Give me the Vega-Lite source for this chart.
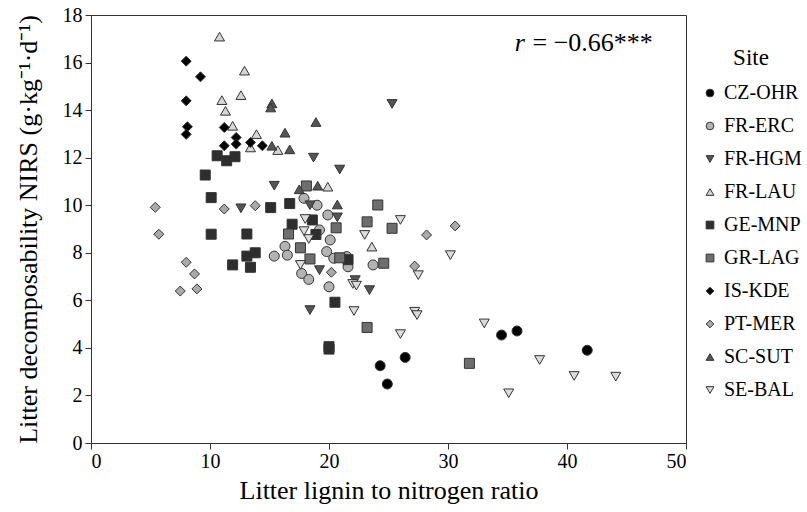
{
  "$schema": "https://vega.github.io/schema/vega-lite/v6.json",
  "width": 595,
  "height": 428,
  "autosize": {"type": "none"},
  "padding": {"left": 91, "top": 15, "right": 121, "bottom": 69},
  "background": "white",
  "config": {
    "font": "Liberation Serif",
    "view": {"stroke": "#333", "strokeWidth": 1},
    "axis": {"grid": false, "domainColor": "#333", "tickColor": "#333", "labelColor": "#000", "titleColor": "#000", "labelFont": "Liberation Serif", "titleFont": "Liberation Serif", "titleFontWeight": "normal"},
    "legend": {"labelFont": "Liberation Serif", "titleFont": "Liberation Serif"}
  },
  "datasets": {
    "pts": [
      {"site": "CZ-OHR", "ln": 24.3, "dec": 3.25},
      {"site": "CZ-OHR", "ln": 26.4, "dec": 3.6},
      {"site": "CZ-OHR", "ln": 24.9, "dec": 2.48},
      {"site": "CZ-OHR", "ln": 34.5, "dec": 4.54},
      {"site": "CZ-OHR", "ln": 35.8, "dec": 4.71},
      {"site": "CZ-OHR", "ln": 41.7, "dec": 3.9},
      {"site": "FR-ERC", "ln": 17.9, "dec": 10.29},
      {"site": "FR-ERC", "ln": 19.0, "dec": 10.0},
      {"site": "FR-ERC", "ln": 19.9, "dec": 9.59},
      {"site": "FR-ERC", "ln": 19.2, "dec": 8.96},
      {"site": "FR-ERC", "ln": 20.1, "dec": 8.54},
      {"site": "FR-ERC", "ln": 19.8, "dec": 8.05},
      {"site": "FR-ERC", "ln": 16.3, "dec": 8.27},
      {"site": "FR-ERC", "ln": 16.5, "dec": 7.9},
      {"site": "FR-ERC", "ln": 15.4, "dec": 7.86},
      {"site": "FR-ERC", "ln": 20.4, "dec": 7.77},
      {"site": "FR-ERC", "ln": 21.5, "dec": 7.84},
      {"site": "FR-ERC", "ln": 21.6, "dec": 7.41},
      {"site": "FR-ERC", "ln": 23.7, "dec": 7.49},
      {"site": "FR-ERC", "ln": 17.7, "dec": 7.13},
      {"site": "FR-ERC", "ln": 18.3, "dec": 6.88},
      {"site": "FR-ERC", "ln": 20.0, "dec": 6.57},
      {"site": "FR-HGM", "ln": 25.3, "dec": 14.26},
      {"site": "FR-HGM", "ln": 18.7, "dec": 12.0},
      {"site": "FR-HGM", "ln": 20.9, "dec": 11.5},
      {"site": "FR-HGM", "ln": 15.4, "dec": 10.82},
      {"site": "FR-HGM", "ln": 18.4, "dec": 10.0},
      {"site": "FR-HGM", "ln": 12.6, "dec": 9.87},
      {"site": "FR-HGM", "ln": 20.7, "dec": 9.49},
      {"site": "FR-HGM", "ln": 19.2, "dec": 7.27},
      {"site": "FR-HGM", "ln": 22.2, "dec": 6.85},
      {"site": "FR-HGM", "ln": 23.4, "dec": 6.43},
      {"site": "FR-HGM", "ln": 18.4, "dec": 5.59},
      {"site": "FR-LAU", "ln": 10.8, "dec": 17.09},
      {"site": "FR-LAU", "ln": 12.9, "dec": 15.66},
      {"site": "FR-LAU", "ln": 12.6, "dec": 14.63},
      {"site": "FR-LAU", "ln": 11.0, "dec": 14.42},
      {"site": "FR-LAU", "ln": 11.3, "dec": 13.97},
      {"site": "FR-LAU", "ln": 11.9, "dec": 13.34},
      {"site": "FR-LAU", "ln": 13.9, "dec": 12.99},
      {"site": "FR-LAU", "ln": 13.4, "dec": 12.43},
      {"site": "FR-LAU", "ln": 15.7, "dec": 12.32},
      {"site": "FR-LAU", "ln": 19.9, "dec": 10.78},
      {"site": "FR-LAU", "ln": 23.6, "dec": 8.26},
      {"site": "GE-MNP", "ln": 10.6, "dec": 12.08},
      {"site": "GE-MNP", "ln": 11.4, "dec": 11.87},
      {"site": "GE-MNP", "ln": 12.1, "dec": 12.04},
      {"site": "GE-MNP", "ln": 9.6, "dec": 11.27},
      {"site": "GE-MNP", "ln": 10.1, "dec": 10.32},
      {"site": "GE-MNP", "ln": 15.1, "dec": 9.9},
      {"site": "GE-MNP", "ln": 16.7, "dec": 10.07},
      {"site": "GE-MNP", "ln": 10.1, "dec": 8.78},
      {"site": "GE-MNP", "ln": 13.1, "dec": 8.79},
      {"site": "GE-MNP", "ln": 13.8, "dec": 8.0},
      {"site": "GE-MNP", "ln": 13.1, "dec": 7.86},
      {"site": "GE-MNP", "ln": 11.9, "dec": 7.49},
      {"site": "GE-MNP", "ln": 13.4, "dec": 7.39},
      {"site": "GE-MNP", "ln": 16.9, "dec": 9.2},
      {"site": "GE-MNP", "ln": 18.6, "dec": 9.38},
      {"site": "GE-MNP", "ln": 18.9, "dec": 8.77},
      {"site": "GE-MNP", "ln": 21.6, "dec": 7.71},
      {"site": "GE-MNP", "ln": 20.5, "dec": 5.92},
      {"site": "GE-MNP", "ln": 20.0, "dec": 4.05},
      {"site": "GE-MNP", "ln": 20.0, "dec": 3.95},
      {"site": "GR-LAG", "ln": 18.1, "dec": 10.81},
      {"site": "GR-LAG", "ln": 20.6, "dec": 9.05},
      {"site": "GR-LAG", "ln": 16.6, "dec": 8.79},
      {"site": "GR-LAG", "ln": 17.6, "dec": 8.21},
      {"site": "GR-LAG", "ln": 18.4, "dec": 7.74},
      {"site": "GR-LAG", "ln": 20.9, "dec": 7.79},
      {"site": "GR-LAG", "ln": 23.2, "dec": 9.3},
      {"site": "GR-LAG", "ln": 24.1, "dec": 10.01},
      {"site": "GR-LAG", "ln": 25.3, "dec": 9.03},
      {"site": "GR-LAG", "ln": 24.6, "dec": 7.56},
      {"site": "GR-LAG", "ln": 23.2, "dec": 4.86},
      {"site": "GR-LAG", "ln": 31.8, "dec": 3.35},
      {"site": "IS-KDE", "ln": 8.0, "dec": 16.06},
      {"site": "IS-KDE", "ln": 9.2, "dec": 15.4},
      {"site": "IS-KDE", "ln": 8.0, "dec": 14.39},
      {"site": "IS-KDE", "ln": 8.1, "dec": 13.3},
      {"site": "IS-KDE", "ln": 8.0, "dec": 12.98},
      {"site": "IS-KDE", "ln": 11.2, "dec": 13.27},
      {"site": "IS-KDE", "ln": 12.2, "dec": 12.85},
      {"site": "IS-KDE", "ln": 11.2, "dec": 12.5},
      {"site": "IS-KDE", "ln": 12.2, "dec": 12.57},
      {"site": "IS-KDE", "ln": 13.4, "dec": 12.64},
      {"site": "IS-KDE", "ln": 14.4, "dec": 12.5},
      {"site": "PT-MER", "ln": 5.4, "dec": 9.91},
      {"site": "PT-MER", "ln": 11.2, "dec": 9.84},
      {"site": "PT-MER", "ln": 13.8, "dec": 9.98},
      {"site": "PT-MER", "ln": 5.7, "dec": 8.78},
      {"site": "PT-MER", "ln": 8.0, "dec": 7.6},
      {"site": "PT-MER", "ln": 8.7, "dec": 7.11},
      {"site": "PT-MER", "ln": 7.5, "dec": 6.39},
      {"site": "PT-MER", "ln": 8.9, "dec": 6.48},
      {"site": "PT-MER", "ln": 20.2, "dec": 7.18},
      {"site": "PT-MER", "ln": 28.2, "dec": 8.75},
      {"site": "PT-MER", "ln": 30.6, "dec": 9.13},
      {"site": "PT-MER", "ln": 27.2, "dec": 7.44},
      {"site": "SC-SUT", "ln": 15.2, "dec": 14.28},
      {"site": "SC-SUT", "ln": 15.1, "dec": 14.11},
      {"site": "SC-SUT", "ln": 16.3, "dec": 13.05},
      {"site": "SC-SUT", "ln": 15.2, "dec": 12.5},
      {"site": "SC-SUT", "ln": 16.7, "dec": 12.35},
      {"site": "SC-SUT", "ln": 17.5, "dec": 10.67},
      {"site": "SC-SUT", "ln": 19.05, "dec": 10.82},
      {"site": "SC-SUT", "ln": 20.7, "dec": 10.03},
      {"site": "SC-SUT", "ln": 18.9, "dec": 13.5},
      {"site": "SE-BAL", "ln": 18.0, "dec": 9.42},
      {"site": "SE-BAL", "ln": 17.9, "dec": 8.91},
      {"site": "SE-BAL", "ln": 18.3, "dec": 8.58},
      {"site": "SE-BAL", "ln": 17.6, "dec": 7.49},
      {"site": "SE-BAL", "ln": 22.0, "dec": 6.69},
      {"site": "SE-BAL", "ln": 22.3, "dec": 6.62},
      {"site": "SE-BAL", "ln": 23.0, "dec": 8.75},
      {"site": "SE-BAL", "ln": 26.0, "dec": 9.38},
      {"site": "SE-BAL", "ln": 30.2, "dec": 7.9},
      {"site": "SE-BAL", "ln": 27.5, "dec": 7.06},
      {"site": "SE-BAL", "ln": 22.1, "dec": 5.55},
      {"site": "SE-BAL", "ln": 27.2, "dec": 5.52},
      {"site": "SE-BAL", "ln": 27.4, "dec": 5.38},
      {"site": "SE-BAL", "ln": 26.0, "dec": 4.58},
      {"site": "SE-BAL", "ln": 33.05, "dec": 5.03},
      {"site": "SE-BAL", "ln": 37.7, "dec": 3.49},
      {"site": "SE-BAL", "ln": 35.1, "dec": 2.09},
      {"site": "SE-BAL", "ln": 40.6, "dec": 2.82},
      {"site": "SE-BAL", "ln": 44.1, "dec": 2.79}
    ],
    "notes": [
      {"ln": 35.6, "dec": 16.82, "t": "r", "part": "sym"},
      {"ln": 37.1, "dec": 16.82, "t": "= −0.66***", "part": "val"}
    ]
  },
  "layer": [
    {
      "data": {"name": "pts"},
      "mark": {"type": "point", "filled": true, "stroke": "#333", "strokeWidth": 1, "size": 100, "opacity": 1},
      "encoding": {
        "x": {"field": "ln", "type": "quantitative", "scale": {"domain": [0, 50], "nice": false, "zero": false},
          "axis": {"values": [0, 10, 20, 30, 40, 50], "title": "Litter lignin to nitrogen ratio", "titleFontSize": 26, "labelFontSize": 20, "tickSize": 6, "labelPadding": 2, "titlePadding": 6}},
        "y": {"field": "dec", "type": "quantitative", "scale": {"domain": [0, 18], "nice": false, "zero": false},
          "axis": {"values": [0, 2, 4, 6, 8, 10, 12, 14, 16, 18], "title": "Litter decomposability NIRS (g·kg⁻¹·d⁻¹)", "titleFontSize": 26, "labelFontSize": 20, "tickSize": 6, "labelPadding": 3, "titlePadding": 21}},
        "shape": {"field": "site", "type": "nominal", "title": "Site",
          "scale": {"domain": ["CZ-OHR", "FR-ERC", "FR-HGM", "FR-LAU", "GE-MNP", "GR-LAG", "IS-KDE", "PT-MER", "SC-SUT", "SE-BAL"],
            "range": ["circle", "circle", "triangle-down", "triangle-up", "square", "square", "diamond", "diamond", "triangle-up", "triangle-down"]}},
        "fill": {"field": "site", "type": "nominal", "title": "Site",
          "scale": {"domain": ["CZ-OHR", "FR-ERC", "FR-HGM", "FR-LAU", "GE-MNP", "GR-LAG", "IS-KDE", "PT-MER", "SC-SUT", "SE-BAL"],
            "range": ["#000000", "#b3b3b3", "#555555", "#d6d6d6", "#2e2e2e", "#6e6e6e", "#000000", "#a9a9a9", "#555555", "#dcdcdc"]},
          "legend": {"orient": "none", "legendX": 609, "legendY": 32, "titleFontSize": 23, "titleFontWeight": "normal", "titleColor": "#000", "labelFontSize": 20, "labelColor": "#000", "symbolSize": 60, "symbolStrokeColor": "#333", "symbolStrokeWidth": 1, "rowPadding": 13, "titlePadding": 13, "titleAnchor": "middle", "labelOffset": 4}}
      }
    },
    {
      "data": {"name": "notes"},
      "transform": [{"filter": "datum.part === 'sym'"}],
      "mark": {"type": "text", "align": "left", "baseline": "middle", "fontSize": 26, "fontStyle": "italic", "color": "#000", "font": "Liberation Serif"},
      "encoding": {
        "x": {"field": "ln", "type": "quantitative"},
        "y": {"field": "dec", "type": "quantitative"},
        "text": {"field": "t"}
      }
    },
    {
      "data": {"name": "notes"},
      "transform": [{"filter": "datum.part === 'val'"}],
      "mark": {"type": "text", "align": "left", "baseline": "middle", "fontSize": 26, "color": "#000", "font": "Liberation Serif"},
      "encoding": {
        "x": {"field": "ln", "type": "quantitative"},
        "y": {"field": "dec", "type": "quantitative"},
        "text": {"field": "t"}
      }
    }
  ]
}
